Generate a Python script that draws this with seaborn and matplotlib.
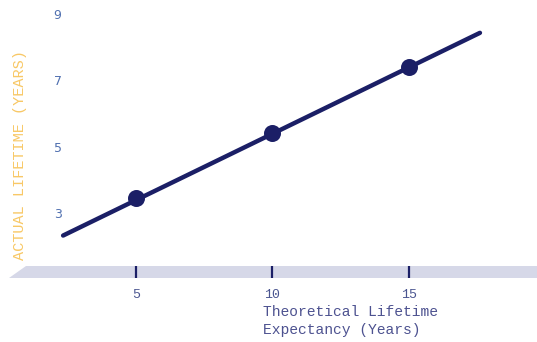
import matplotlib
matplotlib.use("Agg")
import matplotlib.pyplot as plt
from matplotlib.patches import Polygon
import seaborn as sns
import pandas as pd

# data
trend_x = [2.33, 17.6]
trend_y = [2.32, 8.43]
point_x = [5, 10, 15]
point_y = [3.45, 5.42, 7.39]
x_ticks = [5, 10, 15]
y_ticks = [3, 5, 7, 9]
x_label = "Theoretical Lifetime\nExpectancy (Years)"
y_label = "ACTUAL LIFETIME (YEARS)"

sns.set_style("white")
NAVY = "#1b1f66"

W, H = 537, 342
fig = plt.figure(figsize=(W / 100, H / 100), dpi=100)
L, R, B, T = 63, 537, 278, 0
ax = fig.add_axes([L / W, 1 - B / H, (R - L) / W, (B - T) / H])
ax.set_facecolor("none")

line_df = pd.DataFrame({"x": trend_x, "y": trend_y})
pts_df = pd.DataFrame({"x": point_x, "y": point_y})
sns.lineplot(data=line_df, x="x", y="y", ax=ax, color=NAVY, linewidth=3.2,
             clip_on=False, zorder=3)
sns.scatterplot(data=pts_df, x="x", y="y", ax=ax, color=NAVY, s=150,
                edgecolor=NAVY, linewidth=0, zorder=4, clip_on=False)

ax.set_xlim(2.326, 19.69)
ax.set_ylim(1.04, 9.42)

# floor band
def axc(px, py):
    return ((px - L) / (R - L), (B - py) / (B - T))
band = Polygon([axc(9, 278), axc(26, 266), axc(537, 266), axc(537, 278)],
               closed=True, transform=ax.transAxes, facecolor="#d6d8e8",
               edgecolor="none", clip_on=False, zorder=0.5)
ax.add_patch(band)

for s in ax.spines.values():
    s.set_visible(False)

ax.set_xticks(x_ticks)
ax.set_xticklabels([str(v) for v in x_ticks], family="Liberation Mono",
                   fontsize=9.5, color="#4a5590")
ax.tick_params(axis="x", direction="in", length=8.6, width=1.6, color=NAVY,
               pad=8, bottom=True)
ax.set_yticks(y_ticks)
ax.set_yticklabels([str(v) for v in y_ticks], family="DejaVu Sans",
                   fontsize=9, color="#5070b0")
ax.tick_params(axis="y", length=0, pad=1)

ax.set_xlabel(x_label, family="Liberation Mono", fontsize=10.5,
              color="#4d5290", ha="left", va="top", linespacing=1.38)
ax.xaxis.set_label_coords((263 - L) / (R - L), -(305 - B) / (B - T))
ax.set_ylabel("")

fig.text(20 / W, 1 - 155 / H, y_label, rotation=90, family="Liberation Mono",
         fontsize=11, color="#f8c866", ha="center", va="center")

fig.savefig("out.png", dpi=100, facecolor="white")
